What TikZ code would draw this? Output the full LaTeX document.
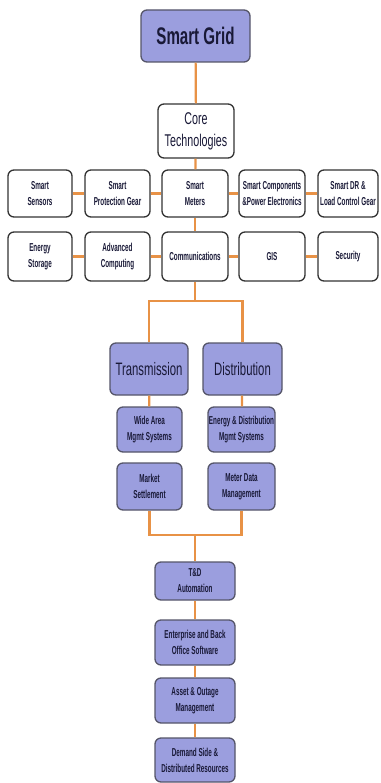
\documentclass[tikz,border=0pt]{standalone}
\usepackage{fontspec}
\setmainfont[FakeStretch=0.63]{Liberation Sans}
\newfontfamily\narrowfont[FakeStretch=0.55]{Liberation Sans}
\definecolor{gridfill}{RGB}{155,158,222}
\definecolor{gridedge}{RGB}{85,85,105}
\definecolor{gridline}{RGB}{232,146,70}
\definecolor{gridtext}{RGB}{25,25,55}
\begin{document}
\begin{tikzpicture}[x=1pt, y=-1pt,
  purplebox/.style={draw=gridedge, fill=gridfill, line width=1.3pt, rounded corners=6pt,
    align=center, inner sep=0pt, text=gridtext},
  whitebox/.style={draw=black!80, fill=white, line width=1.3pt, rounded corners=6pt,
    align=center, inner sep=0pt, text=gridtext},
  smalltext/.style={font=\narrowfont\bfseries\fontsize{11.5}{16}\selectfont},
  link/.style={draw=gridline, line width=2.2pt}]

  \useasboundingbox (0,0) rectangle (380,783);

  % Top of the tree.
  \node[purplebox, minimum width=109, minimum height=52, font=\fontsize{24}{26}\selectfont\bfseries]
    (grid) at (195.5,36) {Smart Grid};
  \node[whitebox, minimum width=76, minimum height=54, font=\fontsize{17}{22}\selectfont]
    (core) at (196,131) {Core\\Technologies};

  % First row of technologies.
  \node[whitebox, smalltext, minimum width=64, minimum height=47] (sensors) at (40,193.5) {Smart\\Sensors};
  \node[whitebox, smalltext, minimum width=65, minimum height=47] (protect) at (117.5,193.5) {Smart\\Protection Gear};
  \node[whitebox, smalltext, minimum width=66, minimum height=47] (meters) at (195,193.5) {Smart\\Meters};
  \node[whitebox, smalltext, minimum width=66, minimum height=47] (compon) at (272,193.5) {Smart Components\\\&Power Electronics};
  \node[whitebox, smalltext, minimum width=60, minimum height=47] (dr) at (348,193.5) {Smart DR \&\\Load Control Gear};

  % Second row of technologies.
  \node[whitebox, smalltext, minimum width=64, minimum height=49] (storage) at (40,256.5) {Energy\\Storage};
  \node[whitebox, smalltext, minimum width=65, minimum height=49] (comput) at (117.5,256.5) {Advanced\\Computing};
  \node[whitebox, smalltext, minimum width=66, minimum height=49] (comm) at (195,256.5) {Communications};
  \node[whitebox, smalltext, minimum width=66, minimum height=49] (gis) at (272,256.5) {GIS};
  \node[whitebox, smalltext, minimum width=60, minimum height=49] (security) at (348,256.5) {Security};

  % Transmission and distribution.
  \node[purplebox, minimum width=78, minimum height=52, font=\fontsize{18}{20}\selectfont]
    (trans) at (149,369) {Transmission};
  \node[purplebox, minimum width=79, minimum height=52, font=\fontsize{18}{20}\selectfont]
    (dist) at (242.5,369) {Distribution};
  \node[purplebox, smalltext, minimum width=65, minimum height=45] (wide) at (149.5,429.5) {Wide Area\\Mgmt Systems};
  \node[purplebox, smalltext, minimum width=67, minimum height=45] (edms) at (241.5,429.5) {Energy \& Distribution\\Mgmt Systems};
  \node[purplebox, smalltext, minimum width=65, minimum height=47] (market) at (149.5,486.5) {Market\\Settlement};
  \node[purplebox, smalltext, minimum width=67, minimum height=47] (mdm) at (241.5,486.5) {Meter Data\\Management};

  % Column at the bottom.
  \node[purplebox, smalltext, minimum width=80, minimum height=38] (tda) at (195,581) {T\&D\\Automation};
  \node[purplebox, smalltext, minimum width=80, minimum height=45] (ebos) at (195,642.5) {Enterprise and Back\\Office Software};
  \node[purplebox, smalltext, minimum width=80, minimum height=45] (aom) at (195,700.5) {Asset \& Outage\\Management};
  \node[purplebox, smalltext, minimum width=80, minimum height=44] (dsdr) at (195,760) {Demand Side \&\\Distributed Resources};

  \coordinate (split) at (195,301);
  \coordinate (join) at (195,535);

  % Orange connectors.
  \draw[link] (grid) -- (core);
  \draw[link] (core) -- (meters);
  \draw[link] (sensors) -- (protect) -- (meters) -- (compon) -- (dr);
  \draw[link] (storage) -- (comput) -- (comm) -- (gis) -- (security);
  \draw[link] (meters) -- (comm);
  \draw[link] (comm) -- (split);
  \draw[link] (trans.north) |- (split) -| (dist.north);
  \draw[link] (trans) -- (wide);
  \draw[link] (dist) -- (edms);
  \draw[link] (market.south) |- (join) -| (mdm.south);
  \draw[link] (join) -- (tda);
  \draw[link] (tda) -- (ebos);
  \draw[link] (ebos) -- (aom);
  \draw[link] (aom) -- (dsdr);

\end{tikzpicture}
\end{document}
